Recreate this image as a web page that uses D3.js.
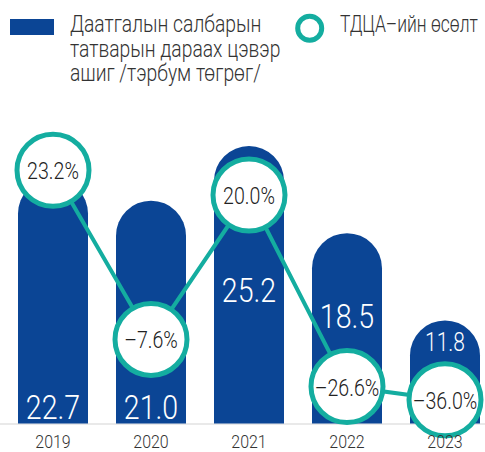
<!DOCTYPE html>
<html>
<head>
<meta charset="utf-8">
<script src="https://cdn.jsdelivr.net/npm/d3@7"></script>
<style>
  html, body { margin: 0; padding: 0; background: #fff; }
  svg { display: block; }
  text { font-family: Roboto, "Noto Sans", sans-serif; font-weight: 300; }
</style>
</head>
<body>
<svg id="chart" width="485" height="452"></svg>
<script>
// Net profit after tax of the insurance sector (billion MNT) and its annual growth
const years = ["2019", "2020", "2021", "2022", "2023"];
const profit = [22.7, 21.0, 25.2, 18.5, 11.8];
const growth = [23.2, -7.6, 20.0, -26.6, -36.0];
const legendProfit = ["Даатгалын салбарын", "татварын дараах цэвэр", "ашиг /тэрбум төгрөг/"];
const legendGrowth = "ТДЦА–ийн өсөлт";

const BLUE = "#0b4595";
const TEAL = "#14ada0";
const NARROW = 0.84;          // horizontal squeeze giving a condensed face
const W = 485, H = 452;
const baseY = 423.5;
const barW = 70, dotR = 36;

const svg = d3.select("#chart");

const x = d3.scalePoint().domain(years).range([53, 445]);
const yBar = d3.scaleLinear().domain([3.88, 25.2]).range([baseY, 146]);
// growth placed on a compressed index scale (1 + rate)
const yDot = d3.scalePow().exponent(4).domain([0.6, 1.25]).range([403.8, 155.5]);

const rows = years.map((yr, i) => ({
  year: yr, value: profit[i], rate: growth[i],
  cx: x(yr), top: yBar(profit[i]), cy: yDot(1 + growth[i] / 100)
}));

function narrowText(sel, tx, ty, str, size, fill, anchor, squeeze) {
  return sel.append("text")
    .attr("transform", `translate(${tx},${ty}) scale(${squeeze || NARROW},1)`)
    .attr("text-anchor", anchor || "middle")
    .attr("font-size", size)
    .attr("fill", fill)
    .text(str);
}

// baseline
svg.append("line")
  .attr("x1", 0).attr("x2", W).attr("y1", 424).attr("y2", 424)
  .attr("stroke", "#d4d4d4").attr("stroke-width", 1.2);

// pill-shaped bars
const bars = svg.append("g");
rows.forEach(d => {
  const x0 = d.cx - barW / 2, x1 = d.cx + barW / 2, r = barW / 2;
  const p = d3.path();
  p.moveTo(x0, baseY);
  p.lineTo(x0, d.top + r);
  p.arc(d.cx, d.top + r, r, Math.PI, 0);
  p.lineTo(x1, baseY);
  p.closePath();
  bars.append("path").attr("d", p.toString()).attr("fill", BLUE);
});

// value labels inside bars
const placement = { "2019": "base", "2020": "base", "2021": "belowDot", "2022": "aboveDot", "2023": "head" };
const vals = svg.append("g");
rows.forEach(d => {
  const mode = placement[d.year];
  let size = 34, by;
  if (mode === "base") by = baseY - 5;
  else if (mode === "belowDot") by = d.cy + dotR + 71;
  else if (mode === "aboveDot") by = d.cy - 59;
  else { size = 25; by = d.top + 31; }
  narrowText(vals, d.cx, by, d.value.toFixed(1), size, "#fff");
});

// growth line and rings
svg.append("path")
  .datum(rows)
  .attr("d", d3.line().x(d => d.cx).y(d => d.cy))
  .attr("fill", "none").attr("stroke", TEAL).attr("stroke-width", 4);

const dots = svg.append("g");
rows.forEach(d => {
  dots.append("circle")
    .attr("cx", d.cx).attr("cy", d.cy).attr("r", dotR)
    .attr("fill", "#fff").attr("stroke", TEAL).attr("stroke-width", 5);
  const lbl = (d.rate < 0 ? "–" : "") + Math.abs(d.rate).toFixed(1) + "%";
  narrowText(dots, d.cx, d.cy + 9, lbl, 24.5, "#222", "middle", 0.8);
});

// year labels
const yrs = svg.append("g");
rows.forEach(d => narrowText(yrs, d.cx, 448, d.year, 19, "#333"));

// legend
const lg = svg.append("g");
lg.append("rect").attr("x", 10).attr("y", 19).attr("width", 44).attr("height", 16).attr("fill", BLUE);
legendProfit.forEach((t, i) => narrowText(lg, 70, 32 + i * 24.5, t, 23, "#333", "start"));
lg.append("circle").attr("cx", 309.7).attr("cy", 28.3).attr("r", 12)
  .attr("fill", "#fff").attr("stroke", TEAL).attr("stroke-width", 5);
narrowText(lg, 340, 32, legendGrowth, 23, "#333", "start", 0.76);
</script>
</body>
</html>
